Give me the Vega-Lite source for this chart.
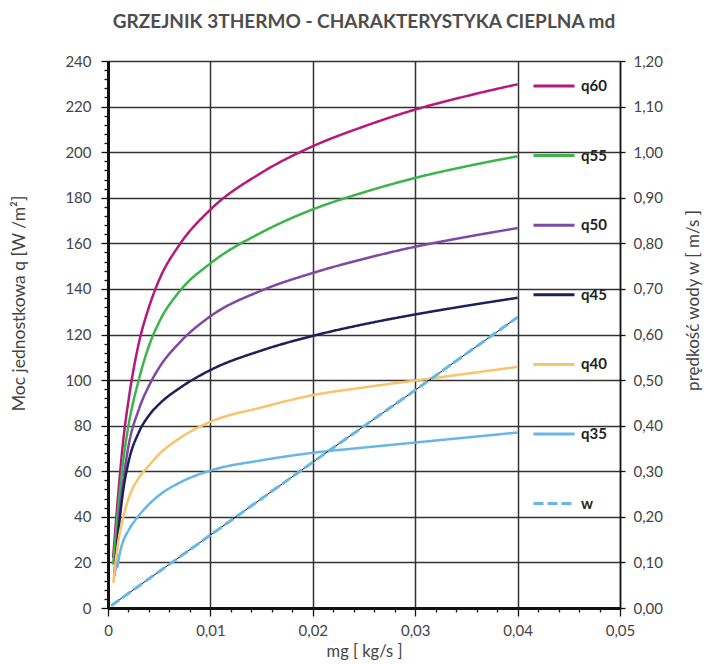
{
  "$schema": "https://vega.github.io/schema/vega-lite/v6.json",
  "autosize": {"type": "none"},
  "width": 512,
  "height": 547,
  "padding": {"left": 108, "top": 61, "right": 84, "bottom": 56},
  "background": "white",
  "title": {
    "text": "GRZEJNIK 3THERMO - CHARAKTERYSTYKA CIEPLNA md",
    "font": "Lato",
    "fontSize": 19,
    "fontWeight": "bold",
    "color": "#4d4d4d",
    "anchor": "middle",
    "offset": 22
  },
  "config": {
    "view": {"stroke": null},
    "axis": {"labelFont": "Lato", "titleFont": "Lato", "labelOverlap": false, "labelBound": false, "labelFlush": false}
  },
  "datasets": {
    "q": [
      {"series": "q60", "mg": 0.0005, "q": 22},
      {"series": "q60", "mg": 0.001, "q": 50},
      {"series": "q60", "mg": 0.0015, "q": 74},
      {"series": "q60", "mg": 0.002, "q": 91},
      {"series": "q60", "mg": 0.003, "q": 116},
      {"series": "q60", "mg": 0.004, "q": 132},
      {"series": "q60", "mg": 0.005, "q": 144},
      {"series": "q60", "mg": 0.007, "q": 159.5},
      {"series": "q60", "mg": 0.01, "q": 174.8},
      {"series": "q60", "mg": 0.015, "q": 191},
      {"series": "q60", "mg": 0.02, "q": 202.6},
      {"series": "q60", "mg": 0.025, "q": 211.3},
      {"series": "q60", "mg": 0.03, "q": 218.7},
      {"series": "q60", "mg": 0.035, "q": 224.6},
      {"series": "q60", "mg": 0.04, "q": 229.8},
      {"series": "q55", "mg": 0.0005, "q": 19},
      {"series": "q55", "mg": 0.001, "q": 44},
      {"series": "q55", "mg": 0.0015, "q": 65},
      {"series": "q55", "mg": 0.002, "q": 80},
      {"series": "q55", "mg": 0.003, "q": 100},
      {"series": "q55", "mg": 0.004, "q": 115},
      {"series": "q55", "mg": 0.005, "q": 125.5},
      {"series": "q55", "mg": 0.007, "q": 139},
      {"series": "q55", "mg": 0.01, "q": 151.2},
      {"series": "q55", "mg": 0.015, "q": 164.8},
      {"series": "q55", "mg": 0.02, "q": 174.9},
      {"series": "q55", "mg": 0.025, "q": 182.4},
      {"series": "q55", "mg": 0.03, "q": 188.7},
      {"series": "q55", "mg": 0.035, "q": 193.8},
      {"series": "q55", "mg": 0.04, "q": 198.2},
      {"series": "q50", "mg": 0.0007, "q": 16},
      {"series": "q50", "mg": 0.001, "q": 36},
      {"series": "q50", "mg": 0.0015, "q": 56},
      {"series": "q50", "mg": 0.002, "q": 71},
      {"series": "q50", "mg": 0.003, "q": 87},
      {"series": "q50", "mg": 0.004, "q": 97.5},
      {"series": "q50", "mg": 0.005, "q": 105.5},
      {"series": "q50", "mg": 0.007, "q": 116.5},
      {"series": "q50", "mg": 0.01, "q": 128},
      {"series": "q50", "mg": 0.015, "q": 139.3},
      {"series": "q50", "mg": 0.02, "q": 147},
      {"series": "q50", "mg": 0.025, "q": 153.2},
      {"series": "q50", "mg": 0.03, "q": 158.5},
      {"series": "q50", "mg": 0.035, "q": 162.8},
      {"series": "q50", "mg": 0.04, "q": 166.7},
      {"series": "q45", "mg": 0.0006, "q": 14},
      {"series": "q45", "mg": 0.001, "q": 33},
      {"series": "q45", "mg": 0.0015, "q": 52},
      {"series": "q45", "mg": 0.002, "q": 64},
      {"series": "q45", "mg": 0.003, "q": 77},
      {"series": "q45", "mg": 0.004, "q": 84.5},
      {"series": "q45", "mg": 0.005, "q": 89.5},
      {"series": "q45", "mg": 0.007, "q": 96.5},
      {"series": "q45", "mg": 0.01, "q": 104.4},
      {"series": "q45", "mg": 0.015, "q": 113},
      {"series": "q45", "mg": 0.02, "q": 119.4},
      {"series": "q45", "mg": 0.025, "q": 124.5},
      {"series": "q45", "mg": 0.03, "q": 128.8},
      {"series": "q45", "mg": 0.035, "q": 132.6},
      {"series": "q45", "mg": 0.04, "q": 136.1},
      {"series": "q40", "mg": 0.00052, "q": 11},
      {"series": "q40", "mg": 0.001, "q": 29},
      {"series": "q40", "mg": 0.0015, "q": 40},
      {"series": "q40", "mg": 0.002, "q": 48},
      {"series": "q40", "mg": 0.003, "q": 57},
      {"series": "q40", "mg": 0.004, "q": 62.5},
      {"series": "q40", "mg": 0.005, "q": 67.5},
      {"series": "q40", "mg": 0.007, "q": 74.5},
      {"series": "q40", "mg": 0.01, "q": 81.7},
      {"series": "q40", "mg": 0.015, "q": 88},
      {"series": "q40", "mg": 0.02, "q": 93.4},
      {"series": "q40", "mg": 0.025, "q": 96.8},
      {"series": "q40", "mg": 0.03, "q": 99.8},
      {"series": "q40", "mg": 0.035, "q": 102.8},
      {"series": "q40", "mg": 0.04, "q": 105.8},
      {"series": "q35", "mg": 0.0009, "q": 17.5},
      {"series": "q35", "mg": 0.0012, "q": 25},
      {"series": "q35", "mg": 0.0015, "q": 29.5},
      {"series": "q35", "mg": 0.002, "q": 34},
      {"series": "q35", "mg": 0.003, "q": 40.5},
      {"series": "q35", "mg": 0.004, "q": 45.5},
      {"series": "q35", "mg": 0.005, "q": 49.5},
      {"series": "q35", "mg": 0.007, "q": 55},
      {"series": "q35", "mg": 0.01, "q": 60.3},
      {"series": "q35", "mg": 0.015, "q": 64.8},
      {"series": "q35", "mg": 0.02, "q": 68.1},
      {"series": "q35", "mg": 0.025, "q": 70.4},
      {"series": "q35", "mg": 0.03, "q": 72.6},
      {"series": "q35", "mg": 0.035, "q": 74.8},
      {"series": "q35", "mg": 0.04, "q": 77}
    ],
    "w": [
      {"series": "w", "mg": 0.0003, "w": 0.005},
      {"series": "w", "mg": 0.01, "w": 0.16},
      {"series": "w", "mg": 0.02, "w": 0.32},
      {"series": "w", "mg": 0.03, "w": 0.478},
      {"series": "w", "mg": 0.04, "w": 0.638}
    ]
  },
  "encoding": {
    "x": {
      "field": "mg", "type": "quantitative",
      "scale": {"domain": [0, 0.05], "nice": false},
      "axis": {
        "orient": "bottom",
        "values": [0,0.002,0.004,0.006,0.008,0.01,0.012,0.014,0.016,0.018,0.02,0.022,0.024,0.026,0.028,0.03,0.032,0.034,0.036,0.038,0.04,0.042,0.044,0.046,0.048,0.05],
        "labelExpr": "abs(datum.value*100 - round(datum.value*100)) < 0.001 ? (datum.value == 0 ? '0' : replace(format(datum.value, '.2f'), '.', ',')) : ''",
        "tickSize": 8,
        "tickDash": {"condition": {"test": "abs(datum.value*100 - round(datum.value*100)) < 0.001", "value": [20, 0]}, "value": [4, 20]},
        "gridOpacity": {"condition": {"test": "abs(datum.value*100 - round(datum.value*100)) < 0.001", "value": 1}, "value": 0},
        "grid": true,
        "gridColor": "#333333",
        "gridWidth": 1.5,
        "domainColor": "#111111",
        "domainWidth": 3,
        "tickColor": "#111111",
        "tickWidth": 1.3,
        "labelFontSize": 15,
        "labelColor": "#444444",
        "labelPadding": 7,
        "title": "mg [ kg/s ]",
        "titleFontSize": 16.5,
        "titleFontWeight": "normal",
        "titleColor": "#444444",
        "titlePadding": 5
      }
    }
  },
  "layer": [
    {
      "data": {"name": "q"},
      "mark": {"type": "line", "strokeWidth": 2.5, "interpolate": "monotone"},
      "encoding": {
        "y": {
          "field": "q", "type": "quantitative",
          "scale": {"domain": [0, 240], "nice": false},
          "axis": {
            "orient": "left",
            "values": [0,4,8,12,16,20,24,28,32,36,40,44,48,52,56,60,64,68,72,76,80,84,88,92,96,100,104,108,112,116,120,124,128,132,136,140,144,148,152,156,160,164,168,172,176,180,184,188,192,196,200,204,208,212,216,220,224,228,232,236,240],
            "labelExpr": "datum.value % 20 == 0 ? datum.label : ''",
            "tickSize": 7,
            "tickDash": {"condition": {"test": "datum.value % 20 == 0", "value": [20, 0]}, "value": [4, 20]},
            "gridOpacity": {"condition": {"test": "datum.value % 20 == 0", "value": 1}, "value": 0},
            "grid": true,
            "gridColor": "#333333",
            "gridWidth": 1.5,
            "domainColor": "#111111",
            "domainWidth": 3,
            "tickColor": "#111111",
            "tickWidth": 1.3,
            "labelFontSize": 15,
            "labelColor": "#444444",
            "labelPadding": 10,
            "title": "Moc jednostkowa q [W /m²]",
            "titleFontSize": 17.5,
            "titleFontWeight": "normal",
            "titleColor": "#444444",
            "titleY": 242,
            "titlePadding": 36
          }
        },
        "color": {
          "field": "series", "type": "nominal",
          "scale": {"domain": ["q60","q55","q50","q45","q40","q35","w"], "range": ["#B5197C","#3CB44A","#7E48A3","#1C2157","#F7C46C","#66B6E6","#66B6E6"]},
          "legend": {"orient": "none", "legendX": 424, "legendY": 3, "title": null, "symbolType": "stroke", "symbolSize": 1681, "symbolStrokeWidth": 3, "rowPadding": 39.6, "labelOffset": 5, "labelFont": "Lato", "labelFontSize": 15, "labelFontWeight": "bold", "labelColor": "#222222", "padding": 0}
        },
        "strokeDash": {
          "field": "series", "type": "nominal",
          "scale": {"domain": ["q60","q55","q50","q45","q40","q35","w"], "range": [[1,0],[1,0],[1,0],[1,0],[1,0],[1,0],[10,4]]},
          "legend": {"orient": "none", "legendX": 424, "legendY": 3, "title": null, "symbolType": "stroke", "symbolSize": 1681, "symbolStrokeWidth": 3, "rowPadding": 39.6, "labelOffset": 5, "labelFont": "Lato", "labelFontSize": 15, "labelFontWeight": "bold", "labelColor": "#222222", "padding": 0}
        }
      }
    },
    {
      "data": {"name": "w"},
      "encoding": {
        "y": {
          "field": "w", "type": "quantitative",
          "scale": {"domain": [0, 1.2], "nice": false},
          "axis": {
            "orient": "right",
            "values": [0,0.1,0.2,0.3,0.4,0.5,0.6,0.7,0.8,0.9,1.0,1.1,1.2],
            "labelExpr": "replace(format(datum.value, '.2f'), '.', ',')",
            "grid": false,
            "tickSize": 5,
            "domainColor": "#111111",
            "domainWidth": 1.5,
            "tickColor": "#111111",
            "tickWidth": 1.3,
            "labelFontSize": 15,
            "labelColor": "#444444",
            "labelPadding": 8,
            "title": "prędkość wody w [ m/s ]",
            "titleFontSize": 17,
            "titleFontWeight": "normal",
            "titleColor": "#444444",
            "titleAngle": 270,
            "titleBaseline": "top",
            "titleY": 239,
            "titlePadding": 23
          }
        }
      },
      "layer": [
        {"mark": {"type": "line", "color": "#111111", "strokeWidth": 1}},
        {
          "mark": {"type": "line", "strokeWidth": 3},
          "encoding": {
            "color": {"field": "series", "type": "nominal"},
            "strokeDash": {"field": "series", "type": "nominal"}
          }
        }
      ]
    }
  ],
  "resolve": {"scale": {"y": "independent"}, "axis": {"y": "independent"}}
}
